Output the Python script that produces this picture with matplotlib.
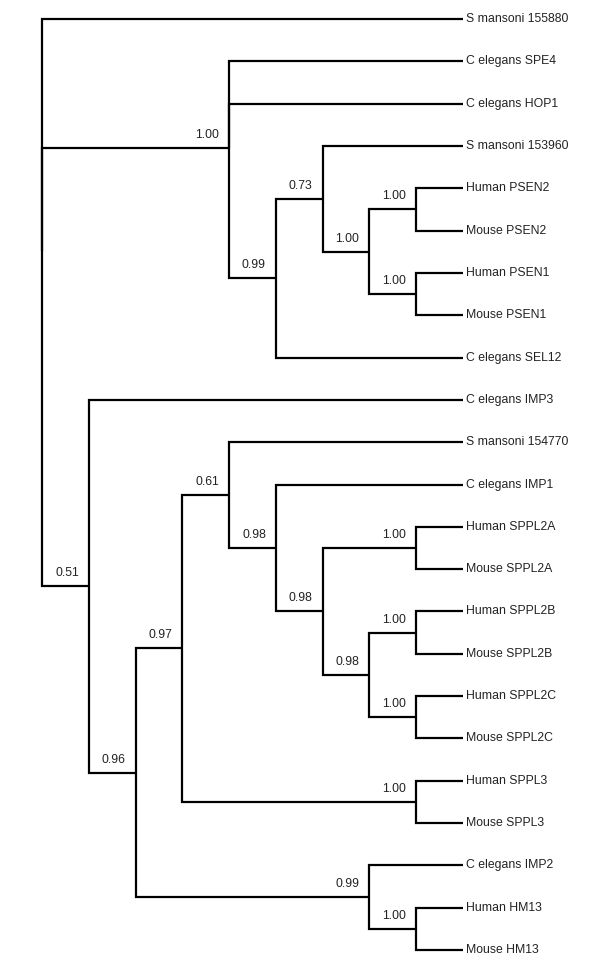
import matplotlib
matplotlib.use('Agg')
import matplotlib.pyplot as plt


# Tree topology with posterior support values (Newick)
newick = ("(S mansoni 155880,"
          "(C elegans SPE4,C elegans HOP1,"
          "((S mansoni 153960,((Human PSEN2,Mouse PSEN2)1.00,(Human PSEN1,Mouse PSEN1)1.00)1.00)0.73,"
          "C elegans SEL12)0.99)1.00,"
          "(C elegans IMP3,"
          "(((S mansoni 154770,(C elegans IMP1,((Human SPPL2A,Mouse SPPL2A)1.00,"
          "((Human SPPL2B,Mouse SPPL2B)1.00,(Human SPPL2C,Mouse SPPL2C)1.00)0.98)0.98)0.98)0.61,"
          "(Human SPPL3,Mouse SPPL3)1.00)0.97,"
          "(C elegans IMP2,(Human HM13,Mouse HM13)1.00)0.99)0.96)0.51);")


def parse_newick(s):
    pos = 0

    def read_label():
        nonlocal pos
        start = pos
        while s[pos] not in ',();':
            pos += 1
        return s[start:pos]

    def node():
        nonlocal pos
        if s[pos] == '(':
            pos += 1
            children = [node()]
            while s[pos] == ',':
                pos += 1
                children.append(node())
            pos += 1  # closing bracket
            return {'children': children, 'label': read_label()}
        return {'children': [], 'label': read_label()}

    return node()


def layout(tree):
    """Cladogram layout: leaves on one column, inner node one step left of its closest child."""
    counter = [0]
    leaf_depth = 9

    def walk(n):
        if not n['children']:
            n['y'] = counter[0]
            n['x'] = leaf_depth
            counter[0] += 1
            return
        for c in n['children']:
            walk(c)
        n['x'] = min(c['x'] for c in n['children']) - 1
        n['y'] = sum(c['y'] for c in n['children']) / len(n['children'])

    walk(tree)
    return counter[0]


def draw(ax, n, is_root=False):
    for c in n['children']:
        ax.plot([n['x'], n['x'], c['x']], [n['y'], c['y'], c['y']],
                color='black', linewidth=1.6, solid_joinstyle='miter',
                solid_capstyle='butt')
        draw(ax, c)
    if not n['children']:
        ax.annotate(n['label'], (n['x'], n['y']), xytext=(3, 0),
                    textcoords='offset pixels', ha='left', va='center',
                    fontsize=8.8, color='#222222')
    elif not is_root and n['label']:
        ax.annotate(n['label'], (n['x'], n['y']), xytext=(-10, 13),
                    textcoords='offset pixels', ha='right', va='center',
                    fontsize=8.8, color='#222222')


plt.rcParams['font.family'] = ['Liberation Sans', 'DejaVu Sans']

tree = parse_newick(newick)
n_leaves = layout(tree)

fig = plt.figure(figsize=(6, 9.74), dpi=100)
ax = fig.add_axes([0, 0, 1, 1])
draw(ax, tree, is_root=True)

# pixel mapping: depth 0 -> 42 px, depth 9 -> 463 px; leaf 0 -> 19 px, last leaf -> 950 px
x_scale = (463 - 42) / 9
y_scale = (950 - 19) / (n_leaves - 1)
ax.set_xlim(-42 / x_scale, (600 - 42) / x_scale)
ax.set_ylim((974 - 19) / y_scale, -19 / y_scale)
ax.axis('off')

fig.savefig('out.png', dpi=100, facecolor='white')
plt.close(fig)
